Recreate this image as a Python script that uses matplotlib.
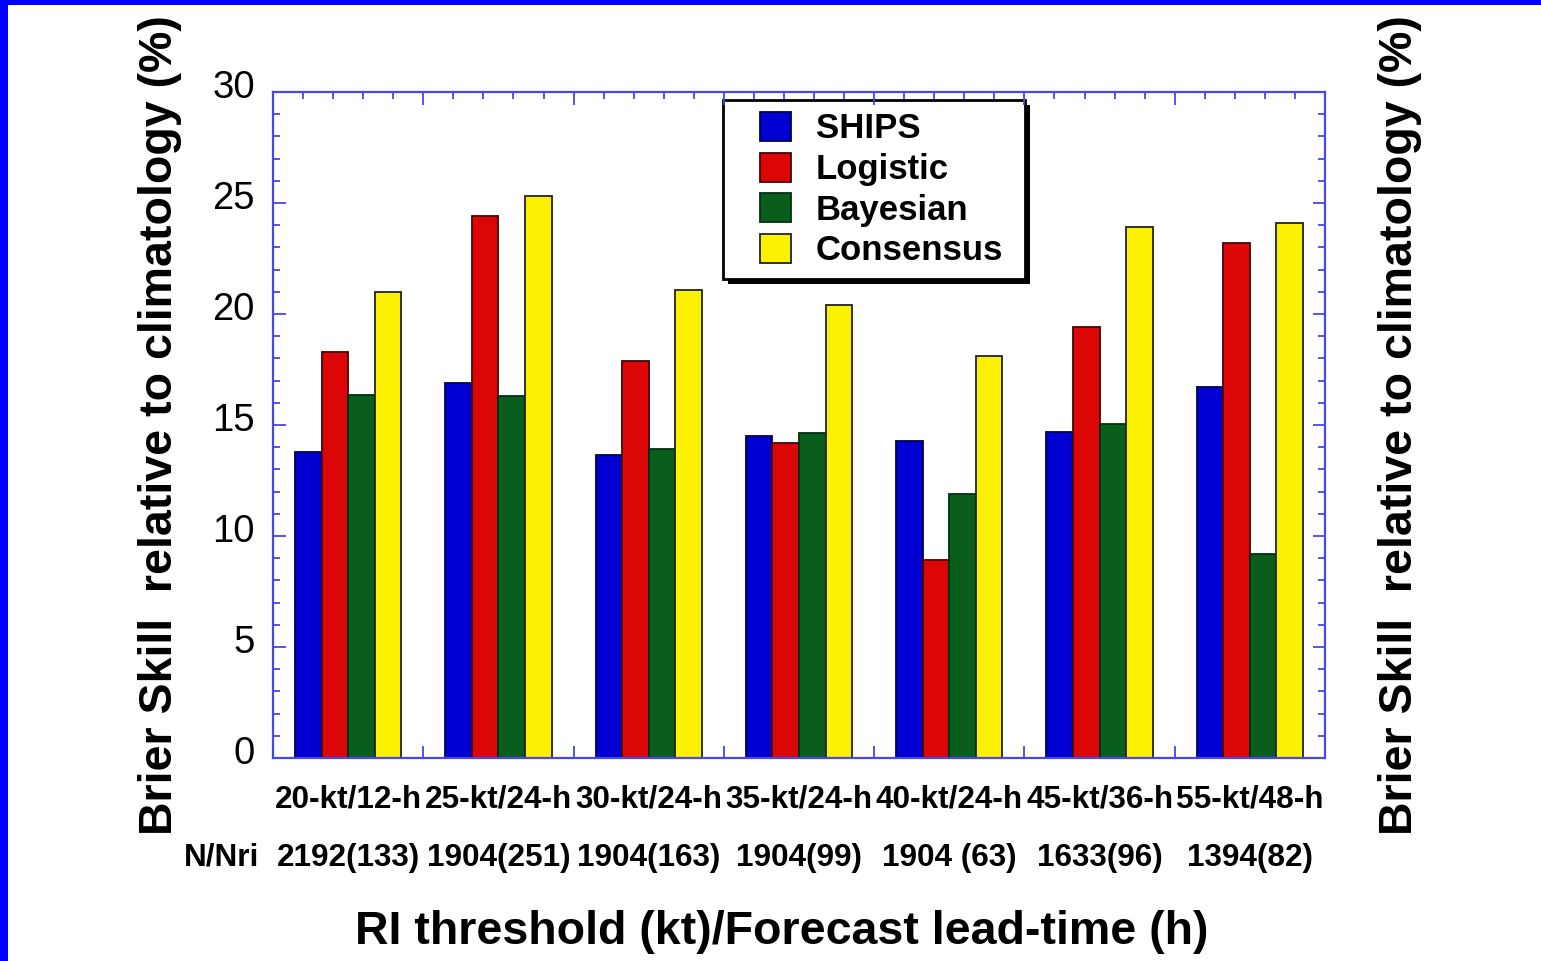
import matplotlib
matplotlib.use("Agg")
import matplotlib.pyplot as plt
import matplotlib.transforms as mtransforms
from matplotlib.patches import Rectangle
from matplotlib.ticker import MultipleLocator
import numpy as np

plt.rcParams['font.family'] = ['Liberation Sans', 'DejaVu Sans']

categories = ["20-kt/12-h", "25-kt/24-h", "30-kt/24-h", "35-kt/24-h",
              "40-kt/24-h", "45-kt/36-h", "55-kt/48-h"]
sample_labels = ["2192(133)", "1904(251)", "1904(163)", "1904(99)",
                 "1904 (63)", "1633(96)", "1394(82)"]
series_names = ["SHIPS", "Logistic", "Bayesian", "Consensus"]
ships = [13.8, 16.9, 13.65, 14.5, 14.3, 14.7, 16.7]
logistic = [18.3, 24.4, 17.9, 14.2, 8.9, 19.4, 23.2]
bayesian = [16.35, 16.3, 13.9, 14.65, 11.9, 15.05, 9.2]
consensus = [21.0, 25.3, 21.1, 20.4, 18.1, 23.9, 24.1]
yticks = [0, 5, 10, 15, 20, 25, 30]

values = [ships, logistic, bayesian, consensus]
colors = ["#0000d2", "#dc0606", "#0a5e1c", "#fcf200"]
edges = ["#000050", "#4a0000", "#003010", "#222222"]

W, H = 1541, 961
fig = plt.figure(figsize=(W / 100, H / 100), dpi=100)
fig.patch.set_facecolor("white")

# blue border (top and left)
fig.patches.append(Rectangle((0, 1 - 5 / H), 1, 5 / H, transform=fig.transFigure,
                             facecolor="#0000ff", edgecolor="none"))
fig.patches.append(Rectangle((0, 0), 8 / W, 1, transform=fig.transFigure,
                             facecolor="#0000ff", edgecolor="none"))

ax_l, ax_r, ax_t, ax_b = 273, 1325, 92, 758
ax = fig.add_axes([ax_l / W, 1 - ax_b / H, (ax_r - ax_l) / W, (ax_b - ax_t) / H])

n = len(categories)
x = np.arange(n) + 0.5
bw = 0.177
for k, (vals, c, ec, name) in enumerate(zip(values, colors, edges, series_names)):
    ax.bar(x + (k - 1.5) * bw, vals, width=bw, color=c, edgecolor=ec,
           linewidth=1.3, label=name, zorder=2)

ax.set_xlim(0, n)
ax.set_ylim(0, 30)
ax.set_yticks(yticks)
ax.yaxis.set_minor_locator(MultipleLocator(1))
ax.xaxis.set_major_locator(MultipleLocator(1))
ax.xaxis.set_minor_locator(MultipleLocator(0.2))
axcol = "#4848e6"
for sp in ax.spines.values():
    sp.set_color(axcol)
    sp.set_linewidth(1.6)
ax.tick_params(which="both", direction="in", top=True, right=True, color=axcol,
               width=1.3)
ax.tick_params(which="major", length=9)
ax.tick_params(which="minor", length=5)
ax.tick_params(axis="x", which="both", labelbottom=False)
ax.tick_params(axis="y", which="major", labelsize=27.5, pad=13, labelcolor="black")
offset = mtransforms.ScaledTranslation(0, 8 / 100, fig.dpi_scale_trans)
for lbl in ax.get_yticklabels():
    lbl.set_transform(lbl.get_transform() + offset)

# category labels and sample sizes
bt = mtransforms.blended_transform_factory(ax.transData, fig.transFigure)
for xi, cat, sl in zip(x, categories, sample_labels):
    ax.text(xi, 1 - 799 / H, cat, transform=bt, ha="center", va="center",
            fontsize=22.7, fontweight="bold")
    ax.text(xi, 1 - 858 / H, sl, transform=bt, ha="center", va="center",
            fontsize=22.7, fontweight="bold")
fig.text(222 / W, 1 - 858 / H, "N/Nri", ha="center", va="center",
         fontsize=22.7, fontweight="bold")

fig.text(782 / W, 1 - 932 / H, "RI threshold (kt)/Forecast lead-time (h)",
         ha="center", va="center", fontsize=33.5, fontweight="bold")
ylab = "Brier Skill  relative to climatology (%)"
fig.text(160 / W, 1 - 425 / H, ylab, rotation=90, ha="center", va="center",
         fontsize=33.5, fontweight="bold")
fig.text(1400 / W, 1 - 425 / H, ylab, rotation=90, ha="center", va="center",
         fontsize=33.5, fontweight="bold")

# legend box with shadow (drawn in pixel-based figure coords)
bx0, by0, bx1, by1 = 723, 100, 1025, 279
sh = 5
fig.patches.append(Rectangle(((bx0 + sh) / W, 1 - (by1 + sh) / H), (bx1 - bx0) / W,
                             (by1 - by0) / H, transform=fig.transFigure,
                             facecolor="black", edgecolor="none", zorder=4))
fig.patches.append(Rectangle((bx0 / W, 1 - by1 / H), (bx1 - bx0) / W,
                             (by1 - by0) / H, transform=fig.transFigure,
                             facecolor="white", edgecolor="black", linewidth=2,
                             zorder=4))
ax.set_zorder(5)
ax.patch.set_visible(False)
leg = ax.legend(loc="upper left",
                bbox_to_anchor=(760 / W, 1 - 112 / H),
                bbox_transform=fig.transFigure,
                borderaxespad=0, frameon=False,
                prop={"size": 25, "weight": "bold"}, handlelength=0.9,
                handleheight=0.9, handletextpad=0.7, labelspacing=0.21,
                borderpad=0)
leg.set_zorder(6)

fig.savefig("out.png", dpi=100)
